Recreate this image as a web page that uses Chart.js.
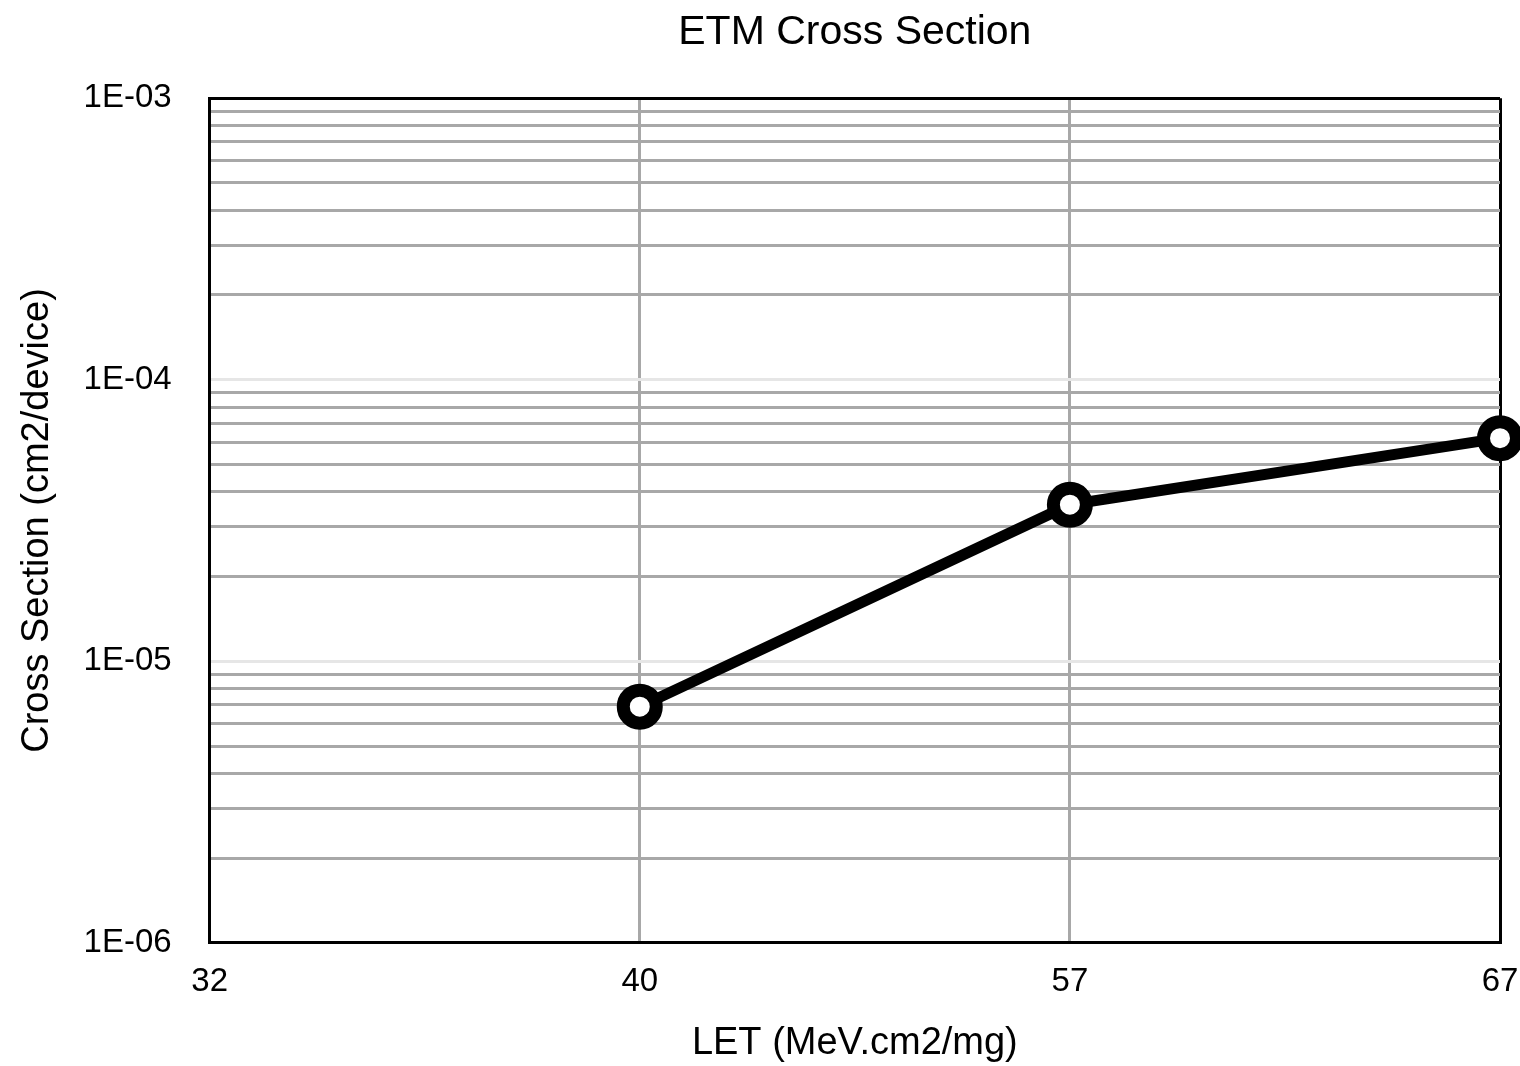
<!DOCTYPE html>
<html>
<head>
<meta charset="utf-8">
<title>ETM Cross Section</title>
<script src="https://cdn.jsdelivr.net/npm/chart.js@4/dist/chart.umd.min.js"></script>
<style>
  html, body { margin: 0; padding: 0; background: #fff; }
  #chart { display: block; }
</style>
</head>
<body>
<canvas id="chart" width="1520" height="1066"></canvas>
<script>
// LET categories (evenly spaced on the x axis)
const letLabels = ['32', '40', '57', '67'];
// cross section per device, nothing measured at 32
const crossSection = [null, 6.9e-6, 3.6e-5, 6.2e-5];

// log grid: 1..9 per decade, labels only on the decades
const yTickValues = [
  1e-6, 2e-6, 3e-6, 4e-6, 5e-6, 6e-6, 7e-6, 8e-6, 9e-6,
  1e-5, 2e-5, 3e-5, 4e-5, 5e-5, 6e-5, 7e-5, 8e-5, 9e-5,
  1e-4, 2e-4, 3e-4, 4e-4, 5e-4, 6e-4, 7e-4, 8e-4, 9e-4,
  1e-3
];
const yTickLabels = { '-6': '1E-06', '-5': '1E-05', '-4': '1E-04', '-3': '1E-03' };

const FONT = 'Liberation Sans, Arial, Helvetica, sans-serif';

function isDecade(v) {
  const l = Math.log10(v);
  return Math.abs(l - Math.round(l)) < 1e-9;
}

const ctx = document.getElementById('chart').getContext('2d');

new Chart(ctx, {
  type: 'line',
  data: {
    labels: letLabels,
    datasets: [{
      label: 'ETM',
      data: crossSection,
      borderColor: '#000',
      borderWidth: 11,
      tension: 0,
      pointRadius: 16.5,
      pointHoverRadius: 16.5,
      pointBorderWidth: 13,
      pointBorderColor: '#000',
      pointBackgroundColor: '#fff',
      clip: false
    }]
  },
  options: {
    responsive: false,
    animation: false,
    layout: {
      autoPadding: false,
      padding: { left: 0, right: 0, top: 0, bottom: 0 }
    },
    plugins: {
      legend: { display: false },
      tooltip: { enabled: false }
    },
    scales: {
      // top axis only carries the chart title so it centres over the plot area
      x2: {
        type: 'category',
        position: 'top',
        offset: false,
        grid: { display: false, drawTicks: false },
        border: { display: false },
        ticks: { display: false },
        title: {
          display: true,
          text: 'ETM Cross Section',
          color: '#000',
          font: { family: FONT, size: 41 },
          padding: { top: 8, bottom: 41 }
        }
      },
      x: {
        type: 'category',
        offset: false,
        // only leave room for half of the "67" label on the right
        afterFit: scale => {
          scale.paddingRight = 20;
        },
        grid: {
          drawTicks: false,
          lineWidth: 3,
          // last vertical line doubles as the right frame
          color: c => (c.index === letLabels.length - 1 ? '#000' : '#a8a8a8')
        },
        border: { color: '#000', width: 3 },
        ticks: {
          color: '#000',
          padding: 19,
          maxRotation: 0,
          font: { family: FONT, size: 33 }
        },
        title: {
          display: true,
          text: 'LET (MeV.cm2/mg)',
          color: '#000',
          font: { family: FONT, size: 38 },
          padding: { top: 0, bottom: 0 }
        }
      },
      y: {
        type: 'logarithmic',
        min: 1e-6,
        max: 1e-3,
        afterBuildTicks: axis => {
          axis.ticks = yTickValues.map(v => ({ value: v }));
        },
        grid: {
          drawTicks: false,
          lineWidth: 3,
          color: c => {
            const v = c.tick ? c.tick.value : 0;
            if (v >= 1e-3 * 0.999) return '#000'; // top frame
            return isDecade(v) ? '#e6e6e6' : '#a8a8a8';
          }
        },
        border: { color: '#000', width: 3 },
        ticks: {
          autoSkip: false,
          color: '#000',
          padding: 38,
          font: { family: FONT, size: 33 },
          callback: v => (isDecade(v) ? yTickLabels[String(Math.round(Math.log10(v)))] : '')
        },
        title: {
          display: true,
          text: 'Cross Section (cm2/device)',
          color: '#000',
          font: { family: FONT, size: 38 },
          padding: { top: 15, bottom: -15 }
        }
      }
    }
  }
});
</script>
</body>
</html>
